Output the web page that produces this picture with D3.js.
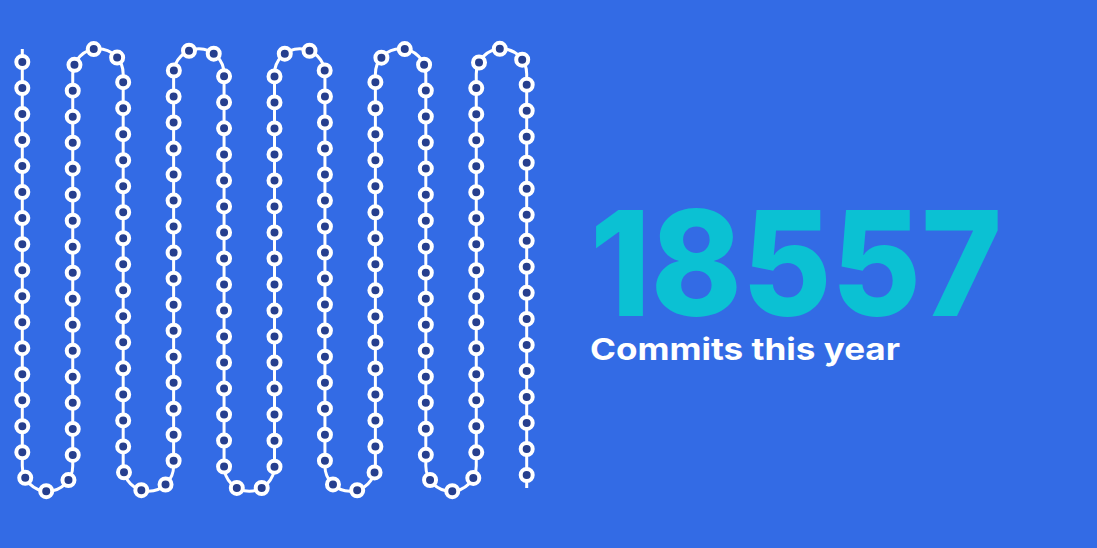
<!DOCTYPE html>
<html>
<head>
<meta charset="utf-8">
<script src="https://cdn.jsdelivr.net/npm/d3@7"></script>
<style>
  html, body { margin: 0; padding: 0; background: #336be5; overflow: hidden; }
</style>
</head>
<body>
<div id="chart"></div>
<script>
// Values.
const commitTotal = 18557;
const commitLabel = 'Commits this year';
const columns = d3.range(11);   // 11 vertical runs of the snake
const dots = d3.range(198);     // beads strung along the snake

const width = 1097;
const height = 548;
const colors = {bg: '#336be5', line: '#ffffff', bead: '#263f8e', number: '#0bc1d3', label: '#ffffff'};

const svg = d3.select('#chart').append('svg')
  .attr('width', width)
  .attr('height', height);

svg.append('rect').attr('width', width).attr('height', height).attr('fill', colors.bg);

// scales: column index -> x, run position (0 top, 1 bottom) -> y
const xScale = d3.scaleLinear().domain([0, columns.length - 1]).range([22.3, 526.7]);
const yScale = d3.scaleLinear().domain([0, 1]).range([74, 466]);
const r = (xScale(1) - xScale(0)) / 2;

// build the serpentine path
const p = d3.path();
p.moveTo(xScale(0), 49);
columns.forEach((c, i) => {
  const x = xScale(c);
  const goingDown = i % 2 === 0;
  const last = i === columns.length - 1;
  if (goingDown) {
    p.lineTo(x, last ? 488 : yScale(1));
    if (!last) p.arc(x + r, yScale(1), r, Math.PI, 0, true);
  } else {
    p.lineTo(x, yScale(0));
    if (!last) p.arc(x + r, yScale(0), r, Math.PI, 0, false);
  }
});

const snake = svg.append('path')
  .attr('d', p.toString())
  .attr('fill', 'none')
  .attr('stroke', colors.line)
  .attr('stroke-width', 3);

// beads evenly spaced along the path
const node = snake.node();
const total = node.getTotalLength();
const step = total / dots.length;

svg.append('g')
  .selectAll('circle')
  .data(dots)
  .join('circle')
  .attr('cx', (d) => node.getPointAtLength((d + 0.5) * step).x)
  .attr('cy', (d) => node.getPointAtLength((d + 0.5) * step).y)
  .attr('r', 6)
  .attr('fill', colors.bead)
  .attr('stroke', colors.line)
  .attr('stroke-width', 4);

// headline
svg.append('text')
  .attr('x', 590)
  .attr('y', 316)
  .attr('fill', colors.number)
  .attr('font-family', 'Inter, sans-serif')
  .attr('font-weight', 800)
  .attr('font-size', 146)
  .attr('textLength', 412)
  .attr('lengthAdjust', 'spacingAndGlyphs')
  .text(commitTotal);

svg.append('text')
  .attr('x', 590)
  .attr('y', 360)
  .attr('fill', colors.label)
  .attr('font-family', 'Inter, sans-serif')
  .attr('font-weight', 700)
  .attr('font-size', 30)
  .attr('textLength', 310)
  .attr('lengthAdjust', 'spacingAndGlyphs')
  .text(commitLabel);
</script>
</body>
</html>
